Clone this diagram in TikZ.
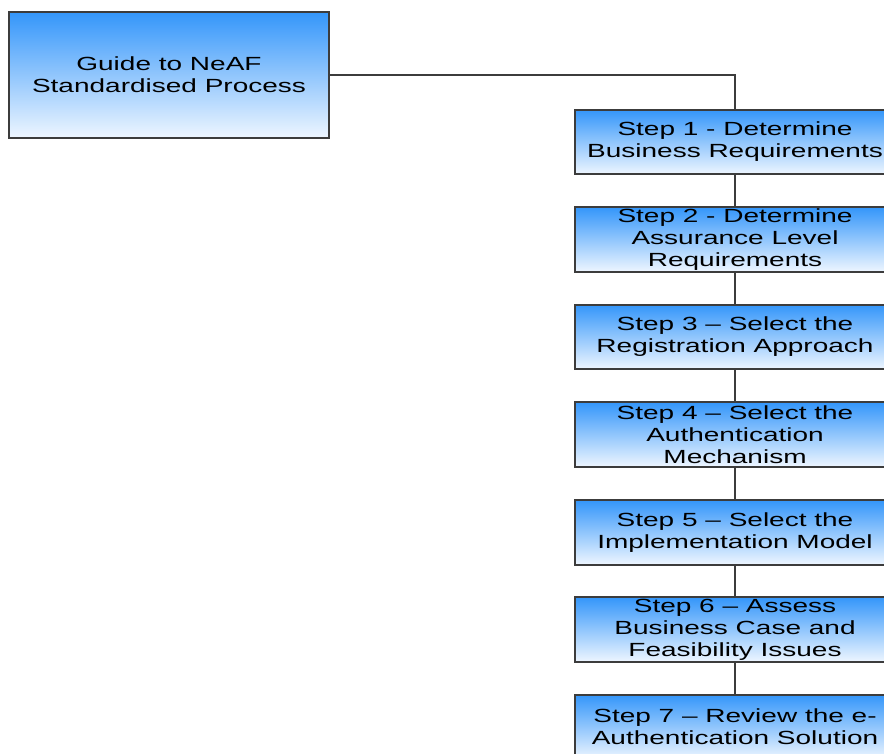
\documentclass[tikz,border=0pt]{standalone}
\usepackage{fontspec}
\setmainfont[FakeStretch=1.47]{Liberation Sans}
\definecolor{boxtop}{RGB}{52,150,250}
\definecolor{boxbottom}{RGB}{238,246,255}
\definecolor{edgegray}{RGB}{60,60,60}
\tikzset{
    procbox/.style={draw=edgegray, line width=0.45pt, top color=boxtop,
        bottom color=boxbottom, minimum width=3.2cm, inner sep=0pt,
        align=center, font=\fontsize{5.42}{6.25}\selectfont},
    link/.style={draw=edgegray, line width=0.4pt}
}
\begin{document}
\begin{tikzpicture}
    \useasboundingbox (0, 0) rectangle (8.84, -7.54);
    \clip (0, 0) rectangle (8.84, -7.54);
    \node[procbox, minimum height=1.26cm] (guide) at(1.69, -0.75)
        {Guide to NeAF\\Standardised Process};
    \node[procbox, minimum height=0.645cm] (step1) at(7.35, -1.42)
        {Step 1 - Determine\\Business Requirements};
    \node[procbox, minimum height=0.645cm] (step2) at(7.35, -2.395)
        {Step 2 - Determine\\Assurance Level\\Requirements};
    \node[procbox, minimum height=0.645cm] (step3) at(7.35, -3.37)
        {Step 3 – Select the\\Registration Approach};
    \node[procbox, minimum height=0.645cm] (step4) at(7.35, -4.345)
        {Step 4 – Select the\\Authentication\\Mechanism};
    \node[procbox, minimum height=0.645cm] (step5) at(7.35, -5.325)
        {Step 5 – Select the\\Implementation Model};
    \node[procbox, minimum height=0.645cm] (step6) at(7.35, -6.295)
        {Step 6 – Assess\\Business Case and\\Feasibility Issues};
    \node[procbox, minimum height=0.645cm] (step7) at(7.35, -7.27)
        {Step 7 – Review the e-\\Authentication Solution};
    \draw[link] (guide.east) -| (step1.north);
    \draw[link] (step1) -- (step2);
    \draw[link] (step2) -- (step3);
    \draw[link] (step3) -- (step4);
    \draw[link] (step4) -- (step5);
    \draw[link] (step5) -- (step6);
    \draw[link] (step6) -- (step7);
\end{tikzpicture}
\end{document}
